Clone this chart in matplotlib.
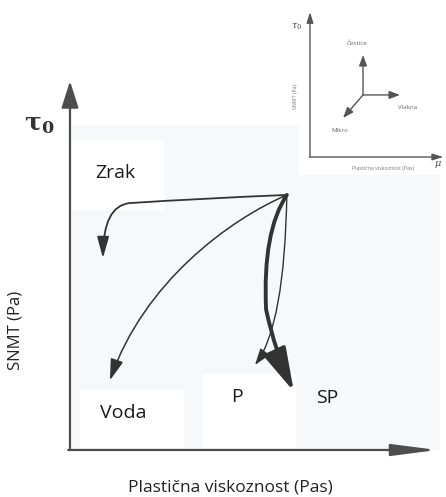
import matplotlib
matplotlib.use("Agg")
import matplotlib.pyplot as plt
from matplotlib.patches import FancyArrowPatch, Rectangle
from matplotlib.path import Path

plt.rcParams["font.family"] = ["Open Sans", "DejaVu Sans"]
plt.rcParams["mathtext.fontset"] = "dejavuserif"

# schematic data (axis units 0..10)
origin = (5.86, 6.54)
# each curve: control points after the common origin, path codes
zrak_pts = [(3.5, 6.45), (1.6, 6.33), (0.9, 6.25), (0.89, 4.92)]
zrak_codes = [Path.CURVE3, Path.CURVE3, Path.CURVE3, Path.CURVE3]
voda_pts = [(4.3, 5.9), (2.0, 4.3), (1.08, 1.79)]
voda_codes = [Path.CURVE4, Path.CURVE4, Path.CURVE4]
p_pts = [(5.8, 3.2), (5.0, 2.18)]
p_codes = [Path.CURVE3, Path.CURVE3]
sp_pts = [(5.2, 5.6), (5.3, 3.6), (5.55, 2.5), (6.05, 1.5)]
sp_codes = [Path.CURVE3, Path.CURVE3, Path.CURVE3, Path.CURVE3]

labels = ["Zrak", "Voda", "P", "SP"]
label_pos = [(0.68, 7.1), (0.81, 0.95), (4.51, 1.36), (6.95, 1.33)]

# inset: direction arrows from a centre point
inset_centre = (4.08, 4.28)
inset_tips = [(4.08, 7.03), (6.92, 4.28), (2.54, 2.69)]
inset_names = ["Čestice", "Vlakna", "Mikro"]
inset_name_pos = [(3.62, 7.86), (7.54, 3.38), (2.31, 1.86)]

W, H = 446, 497
fig = plt.figure(figsize=(W / 100, H / 100), dpi=100)
fig.patch.set_facecolor("white")

ax = fig.add_axes([70 / W, (H - 450) / H, 370 / W, 390 / H])
ax.set_xlim(0, 10)
ax.set_ylim(0, 10)
ax.axis("off")

# very faint tinted background with white patches behind labels and the inset
ax.add_patch(Rectangle((0.05, 0.0), 9.95, 8.33, facecolor="#f6f8fb", edgecolor="none", zorder=0))
for x0, y0, w, h in [(0.05, 6.15, 2.5, 1.8), (0.27, 0.05, 2.8, 1.5), (3.6, 0.05, 2.5, 1.9),
                     (6.2, 7.05, 3.9, 1.4)]:
    ax.add_patch(Rectangle((x0, y0), w, h, facecolor="white", edgecolor="none", zorder=0))

axis_col = "#4d4d4d"
ax.annotate("", xy=(0, 9.46), xytext=(0, 0), annotation_clip=False,
            arrowprops=dict(arrowstyle="-|>,head_length=1.1,head_width=0.35",
                            mutation_scale=15, color=axis_col, lw=1.6,
                            shrinkA=0, shrinkB=0))
ax.annotate("", xy=(9.92, 0), xytext=(-0.05, 0), annotation_clip=False,
            arrowprops=dict(arrowstyle="-|>,head_length=1.85,head_width=0.24",
                            mutation_scale=15, color=axis_col, lw=1.6,
                            shrinkA=0, shrinkB=0))


def curve(pts, codes, lw, hl, hw):
    path = Path([origin] + pts, [Path.MOVETO] + codes)
    arr = FancyArrowPatch(path=path, arrowstyle=f"-|>,head_length={hl},head_width={hw}",
                          mutation_scale=20, color="#333333", lw=lw, zorder=3)
    ax.add_patch(arr)


curve(zrak_pts, zrak_codes, 1.3, 0.65, 0.18)
curve(voda_pts, voda_codes, 1.1, 0.65, 0.2)
curve(p_pts, p_codes, 1.0, 0.5, 0.17)
curve(sp_pts, sp_codes, 2.8, 1.33, 0.36)

for txt, (x, y) in zip(labels, label_pos):
    ha = "left" if txt in ("Zrak", "Voda") else "center"
    ax.text(x, y, txt, fontsize=14, ha=ha, va="center", color="#1a1a1a")

fig.text(39 / W, 1 - 124 / H, r"$\mathbf{\tau_0}$", fontsize=18, ha="center", va="center",
         color="#333333")
fig.text(16 / W, 1 - 330 / H, "SNMT (Pa)", fontsize=12, rotation=90, ha="center",
         va="center", color="#222222")
fig.text(230 / W, 1 - 487 / H, "Plastična viskoznost (Pas)", fontsize=12.5, ha="center",
         va="center", color="#222222")

# inset schematic
ax2 = fig.add_axes([310 / W, (H - 157) / H, 130 / W, 145 / H])
ax2.set_xlim(0, 10)
ax2.set_ylim(0, 10)
ax2.axis("off")
in_col = "#555555"
ax2.annotate("", xy=(0, 10), xytext=(0, 0), annotation_clip=False,
             arrowprops=dict(arrowstyle="-|>,head_length=0.8,head_width=0.25",
                             mutation_scale=8, color=in_col, lw=1.0, shrinkA=0, shrinkB=0))
ax2.annotate("", xy=(10.25, 0), xytext=(-0.05, 0), annotation_clip=False,
             arrowprops=dict(arrowstyle="-|>,head_length=0.8,head_width=0.25",
                             mutation_scale=8, color=in_col, lw=1.0, shrinkA=0, shrinkB=0))
for tip in inset_tips:
    ax2.annotate("", xy=tip, xytext=inset_centre, annotation_clip=False,
                 arrowprops=dict(arrowstyle="-|>,head_length=0.8,head_width=0.3",
                                 mutation_scale=8, color=in_col, lw=1.0,
                                 shrinkA=0, shrinkB=0))
for txt, (x, y) in zip(inset_names, inset_name_pos):
    ax2.text(x, y, txt, fontsize=4.5, ha="center", va="center", color="#666666")

ax2.text(-1.0, 8.97, r"$\tau_0$", fontsize=7, ha="center", va="center", color="#444444")
ax2.text(9.85, -0.5, r"$\mu$", fontsize=7, ha="center", va="center", color="#444444")
ax2.text(5.6, -0.78, "Plastična viskoznost (Pas)", fontsize=3.8, ha="center", va="center",
         color="#777777")
ax2.text(-1.15, 4.14, "SNMT (Pa)", fontsize=3.8, rotation=90, ha="center", va="center",
         color="#777777")

fig.savefig("out.png", dpi=100)
